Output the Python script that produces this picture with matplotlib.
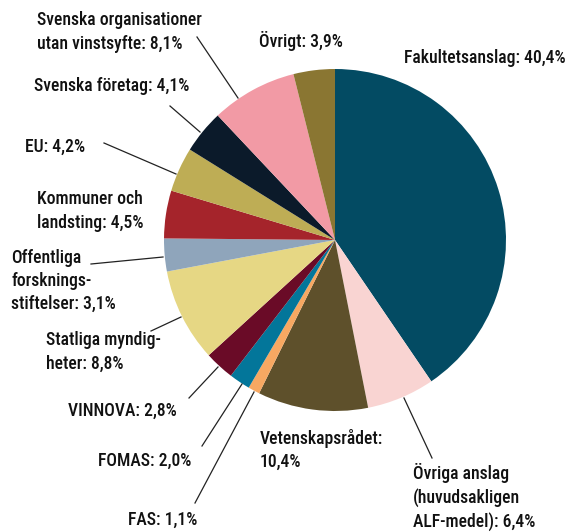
import matplotlib
matplotlib.use("Agg")
import matplotlib.pyplot as plt

# andel av forskningsfinansiering, procent
labels = ["Fakultetsanslag: 40,4%",
          "Övriga anslag\n(huvudsakligen\nALF-medel): 6,4%",
          "Vetenskapsrådet:\n10,4%",
          "FAS: 1,1%",
          "FOMAS: 2,0%",
          "VINNOVA: 2,8%",
          "Statliga myndig-\nheter: 8,8%",
          "Offentliga\nforsknings-\nstiftelser: 3,1%",
          "Kommuner och\nlandsting: 4,5%",
          "EU: 4,2%",
          "Svenska företag: 4,1%",
          "Svenska organisationer\nutan vinstsyfte: 8,1%",
          "Övrigt: 3,9%"]
values = [40.4, 6.4, 10.4, 1.1, 2.0, 2.8, 8.8, 3.1, 4.5, 4.2, 4.1, 8.1, 3.9]
colors = ["#034b63", "#f9d4d2", "#5e502b", "#f7a862", "#03769a", "#6a0b27",
          "#e6d784", "#8fa5bb", "#a5242b", "#bead55", "#0b1a2a", "#f29aa5",
          "#8a7632"]

W, H = 579, 532
# label placement in pixels (x left, y centre, measured from top)
text_pos = [(404, 58), (413, 497), (260, 450), (128, 520), (98, 461),
            (68, 411), (46, 352), (11, 281), (37, 211), (25, 147),
            (34, 86), (37, 32), (259, 41)]
# leader lines (x0, y0, x1, y1) in pixels from top
leaders = [(404, 398, 432, 458), (195, 503, 254, 392), (202, 446, 242, 384),
           (189, 398, 218, 367), (151, 331, 181, 317), (91, 264, 163, 257),
           (104, 143, 176, 174), (170, 106, 200, 132), (197, 37, 238, 98)]

plt.rcParams['font.family'] = ['Roboto Condensed', 'Liberation Sans', 'DejaVu Sans']

fig = plt.figure(figsize=(W / 100, H / 100), dpi=100)
ax = fig.add_axes([0, 0, 1, 1])
ax.pie(values, colors=colors, startangle=90, counterclock=False,
       center=(335, H - 240), radius=171, frame=True,
       wedgeprops=dict(linewidth=0))
ax.set_xlim(0, W)
ax.set_ylim(0, H)
ax.set_aspect('equal')
ax.axis('off')

for lab, (x, y) in zip(labels, text_pos):
    ax.text(x, H - y, lab, ha='left', va='center', fontsize=12.7,
            fontweight='medium', color='#111111', linespacing=1.36)

for x0, y0, x1, y1 in leaders:
    ax.plot([x0, x1], [H - y0, H - y1], color='#222222', lw=0.9)

fig.savefig("out.png", dpi=100)
